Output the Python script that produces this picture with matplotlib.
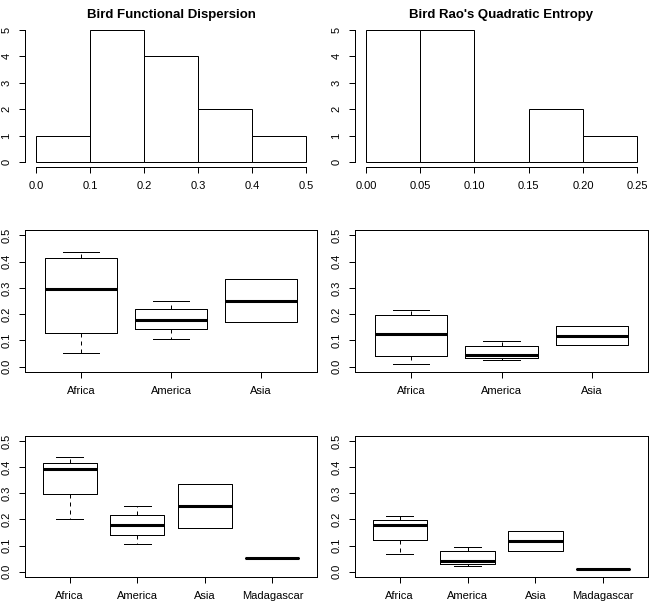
import matplotlib
matplotlib.use("Agg")
import matplotlib.pyplot as plt
import numpy as np

plt.rcParams['font.family'] = ['Liberation Sans', 'DejaVu Sans']

# ---- data ----
fdis_edges = [0.0, 0.1, 0.2, 0.3, 0.4, 0.5]
fdis_counts = [1, 5, 4, 2, 1]
rao_edges = [0.00, 0.05, 0.10, 0.15, 0.20, 0.25]
rao_counts = [5, 5, 0, 2, 1]

groups3 = ["Africa", "America", "Asia"]
groups4 = ["Africa", "America", "Asia", "Madagascar"]

# FDis by continent (3 groups)
fd3_whislo = [0.052, 0.105, 0.170]
fd3_q1 = [0.128, 0.145, 0.170]
fd3_med = [0.296, 0.179, 0.250]
fd3_q3 = [0.412, 0.220, 0.334]
fd3_whishi = [0.437, 0.250, 0.334]

# Rao by continent (3 groups)
rq3_whislo = [0.010, 0.025, 0.082]
rq3_q1 = [0.041, 0.034, 0.082]
rq3_med = [0.124, 0.044, 0.117]
rq3_q3 = [0.195, 0.077, 0.154]
rq3_whishi = [0.216, 0.098, 0.154]

# FDis by region (4 groups)
fd4_whislo = [0.202, 0.107, 0.168, 0.053]
fd4_q1 = [0.297, 0.141, 0.168, 0.053]
fd4_med = [0.392, 0.179, 0.251, 0.053]
fd4_q3 = [0.415, 0.216, 0.335, 0.053]
fd4_whishi = [0.438, 0.250, 0.335, 0.053]

# Rao by region (4 groups)
rq4_whislo = [0.069, 0.023, 0.080, 0.010]
rq4_q1 = [0.122, 0.030, 0.080, 0.010]
rq4_med = [0.179, 0.042, 0.118, 0.010]
rq4_q3 = [0.198, 0.079, 0.156, 0.010]
rq4_whishi = [0.212, 0.095, 0.156, 0.010]

titles = ["Bird Functional Dispersion", "Bird Rao's Quadratic Entropy"]

# ---- style ----
LW = 0.72
FS = 8
fig = plt.figure(figsize=(6.61, 6.16), dpi=100)

colx = [(0.0378, 0.4418), (0.5371, 0.4433)]
rowy = [(0.7284, 0.2315), (0.3961, 0.2305), (0.0633, 0.2294)]


def style_ticks(ax):
    ax.tick_params(axis='both', direction='out', length=4.3, width=LW,
                   labelsize=FS, pad=5.5, color='black', labelcolor='black')
    ax.tick_params(axis='y', labelrotation=90)
    for lab in ax.get_yticklabels():
        lab.set_va('center')


def hist_panel(ax, edges, counts, xticks, xlabels, title):
    edges = np.asarray(edges)
    ax.bar(edges[:-1], counts, width=np.diff(edges), align='edge',
           facecolor='white', edgecolor='black', linewidth=LW)
    rng = edges[-1] - edges[0]
    ax.set_xlim(edges[0] - 0.04 * rng, edges[-1] + 0.04 * rng)
    ax.set_ylim(-0.2, 5.2)
    for s in ['top', 'right']:
        ax.spines[s].set_visible(False)
    ax.spines['left'].set_bounds(0, 5)
    ax.spines['bottom'].set_bounds(edges[0], edges[-1])
    for s in ['left', 'bottom']:
        ax.spines[s].set_linewidth(LW)
    ax.set_xticks(xticks)
    ax.set_xticklabels(xlabels)
    ax.set_yticks(range(6))
    ax.set_yticklabels([str(i) for i in range(6)])
    style_ticks(ax)
    ax.set_title(title, fontsize=9.5, fontweight='bold', pad=4.5)


def box_panel(ax, labels, whislo, q1, med, q3, whishi):
    stats = []
    for i in range(len(labels)):
        stats.append(dict(label=labels[i], whislo=whislo[i], q1=q1[i],
                          med=med[i], q3=q3[i], whishi=whishi[i]))
    n = len(labels)
    ax.bxp(stats, positions=range(1, n + 1), widths=0.8, showfliers=False,
           boxprops=dict(color='black', linewidth=LW),
           medianprops=dict(color='black', linewidth=2.2, solid_capstyle='butt'),
           whiskerprops=dict(color='black', linewidth=LW, linestyle=(0, (4, 4))),
           capprops=dict(color='black', linewidth=LW))
    ax.set_xlim(0.5 - 0.04 * n, n + 0.5 + 0.04 * n)
    ax.set_ylim(-0.02, 0.52)
    yt = [0.0, 0.1, 0.2, 0.3, 0.4, 0.5]
    ax.set_yticks(yt)
    ax.set_yticklabels(["%.1f" % v for v in yt])
    ax.set_xticks(range(1, n + 1))
    ax.set_xticklabels(labels)
    for s in ax.spines.values():
        s.set_linewidth(LW)
    style_ticks(ax)


ax = fig.add_axes([colx[0][0], rowy[0][0], colx[0][1], rowy[0][1]])
hist_panel(ax, fdis_edges, fdis_counts, fdis_edges,
           ["%.1f" % v for v in fdis_edges], titles[0])
ax = fig.add_axes([colx[1][0], rowy[0][0], colx[1][1], rowy[0][1]])
hist_panel(ax, rao_edges, rao_counts, rao_edges,
           ["%.2f" % v for v in rao_edges], titles[1])

ax = fig.add_axes([colx[0][0], rowy[1][0], colx[0][1], rowy[1][1]])
box_panel(ax, groups3, fd3_whislo, fd3_q1, fd3_med, fd3_q3, fd3_whishi)
ax = fig.add_axes([colx[1][0], rowy[1][0], colx[1][1], rowy[1][1]])
box_panel(ax, groups3, rq3_whislo, rq3_q1, rq3_med, rq3_q3, rq3_whishi)

ax = fig.add_axes([colx[0][0], rowy[2][0], colx[0][1], rowy[2][1]])
box_panel(ax, groups4, fd4_whislo, fd4_q1, fd4_med, fd4_q3, fd4_whishi)
ax = fig.add_axes([colx[1][0], rowy[2][0], colx[1][1], rowy[2][1]])
box_panel(ax, groups4, rq4_whislo, rq4_q1, rq4_med, rq4_q3, rq4_whishi)

fig.savefig("out.png", dpi=100, facecolor='white')
